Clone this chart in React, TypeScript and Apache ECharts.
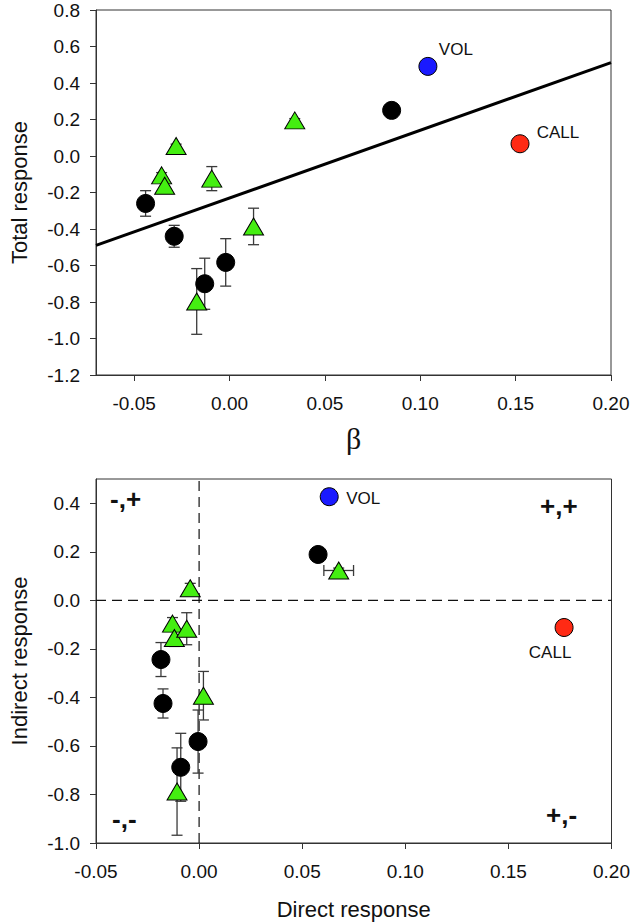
import React, { useEffect, useRef } from "react";
import * as echarts from "echarts";

// ---------- Top panel: Total response vs beta ----------
// [beta, total response, y error]
const topBlack: number[][] = [
  [-0.044, -0.26, 0.07],
  [-0.029, -0.44, 0.06],
  [-0.013, -0.7, 0.14],
  [-0.002, -0.583, 0.13],
  [0.085, 0.25, 0],
];
const topGreen: number[][] = [
  [-0.028, 0.055, 0.01],
  [-0.0356, -0.106, 0.015],
  [-0.034, -0.163, 0.015],
  [-0.0093, -0.124, 0.066],
  [0.0126, -0.386, 0.1],
  [-0.0172, -0.797, 0.18],
  [0.0342, 0.195, 0.01],
];
const topVol: number[][] = [[0.104, 0.491, 0]];
const topCall: number[][] = [[0.1523, 0.067, 0]];
const fitX: number[] = [-0.07, 0.2];
const fitY: number[] = [-0.49, 0.512];

const topXTicks: number[] = [-0.05, 0, 0.05, 0.1, 0.15, 0.2];
const topYTicks: number[] = [-1.2, -1.0, -0.8, -0.6, -0.4, -0.2, 0, 0.2, 0.4, 0.6, 0.8];

// ---------- Bottom panel: Indirect vs Direct response ----------
// [direct, indirect, y error, x error]
const botBlack: number[][] = [
  [-0.0185, -0.244, 0.07, 0],
  [-0.0175, -0.425, 0.06, 0],
  [-0.0005, -0.582, 0.13, 0],
  [-0.0089, -0.688, 0.14, 0],
  [0.0577, 0.189, 0, 0],
];
const botGreen: number[][] = [
  [-0.0043, 0.05, 0.02, 0],
  [-0.0129, -0.096, 0.025, 0],
  [-0.012, -0.155, 0.035, 0],
  [-0.006, -0.117, 0.066, 0],
  [0.0021, -0.393, 0.1, 0],
  [-0.0107, -0.788, 0.18, 0],
  [0.0677, 0.123, 0.01, 0.0072],
];
const botVol: number[][] = [[0.0631, 0.427, 0.03, 0]];
const botCall: number[][] = [[0.177, -0.112, 0.015, 0]];

const botXTicks: number[] = [-0.05, 0, 0.05, 0.1, 0.15, 0.2];
const botYTicks: number[] = [-1.0, -0.8, -0.6, -0.4, -0.2, 0, 0.2, 0.4];
const zeroLineV: number[][] = [[0, -1.0], [0, 0.5]];
const zeroLineH: number[][] = [[-0.05, 0], [0.2, 0]];

const FONT = "'Liberation Sans', Arial, Helvetica, sans-serif";
const AX = "#333333";
const GREEN = "#44ee11";
const BLUE = "#1a1aff";
const RED = "#ff2a14";

function errorBarItem(params: any, api: any) {
  const x = api.value(0);
  const y = api.value(1);
  const ey = api.value(2) || 0;
  const ex = api.value(3) || 0;
  const cap = 5.5;
  const style = { stroke: "#3a3a3a", lineWidth: 1.3, fill: "none" };
  const children: any[] = [];
  if (ey > 0) {
    const a = api.coord([x, y + ey]);
    const b = api.coord([x, y - ey]);
    children.push({ type: "line", shape: { x1: a[0], y1: a[1], x2: b[0], y2: b[1] }, style });
    children.push({ type: "line", shape: { x1: a[0] - cap, y1: a[1], x2: a[0] + cap, y2: a[1] }, style });
    children.push({ type: "line", shape: { x1: b[0] - cap, y1: b[1], x2: b[0] + cap, y2: b[1] }, style });
  }
  if (ex > 0) {
    const a = api.coord([x - ex, y]);
    const b = api.coord([x + ex, y]);
    children.push({ type: "line", shape: { x1: a[0], y1: a[1], x2: b[0], y2: b[1] }, style });
    children.push({ type: "line", shape: { x1: a[0], y1: a[1] - cap, x2: a[0], y2: a[1] + cap }, style });
    children.push({ type: "line", shape: { x1: b[0], y1: b[1] - cap, x2: b[0], y2: b[1] + cap }, style });
  }
  return { type: "group", children };
}

function errSeries(data: number[][], idx: number) {
  return {
    type: "custom",
    xAxisIndex: idx,
    yAxisIndex: idx,
    renderItem: errorBarItem,
    encode: { x: 0, y: 1 },
    data,
    z: 2,
    silent: true,
  };
}

function scatter(data: number[][], idx: number, symbol: string, size: any, color: string, label?: any) {
  return {
    type: "scatter",
    xAxisIndex: idx,
    yAxisIndex: idx,
    symbol,
    symbolSize: size,
    data: data.map((d) => [d[0], d[1]]),
    itemStyle: { color, borderColor: "#000", borderWidth: 1, opacity: 1 },
    label: label || { show: false },
    z: 4,
  };
}

function labelOf(text: string, offset: number[]) {
  return {
    show: true,
    position: "inside",
    offset,
    formatter: text,
    color: "#111",
    fontSize: 17,
    fontFamily: FONT,
  };
}

function xAxisCfg(idx: number, min: number, max: number, ticks: number[], name: string, nameStyle: any, nameGap: number) {
  return {
    type: "value",
    gridIndex: idx,
    min,
    max,
    name,
    nameLocation: "middle",
    nameGap,
    nameTextStyle: nameStyle,
    axisLine: { show: true, onZero: false, lineStyle: { color: AX, width: 1 } },
    axisTick: { show: true, inside: false, length: 6, customValues: ticks, lineStyle: { color: AX } },
    axisLabel: {
      show: true,
      customValues: ticks,
      margin: 19,
      fontSize: 19,
      fontFamily: FONT,
      color: "#111",
      formatter: (v: number) => v.toFixed(2),
    },
    splitLine: { show: false },
  };
}

function yAxisCfg(idx: number, min: number, max: number, ticks: number[], name: string, nameGap: number) {
  return {
    type: "value",
    gridIndex: idx,
    min,
    max,
    name,
    nameLocation: "middle",
    nameGap,
    nameRotate: 90,
    nameTextStyle: { fontSize: 22, fontFamily: FONT, color: "#111" },
    axisLine: { show: true, onZero: false, lineStyle: { color: AX, width: 1 } },
    axisTick: { show: true, inside: false, length: 6, customValues: ticks, lineStyle: { color: AX } },
    axisLabel: {
      show: true,
      customValues: ticks,
      margin: 16,
      fontSize: 19,
      fontFamily: FONT,
      color: "#111",
      formatter: (v: number) => v.toFixed(1),
    },
    splitLine: { show: false },
  };
}

export default function App() {
  const ref = useRef<HTMLDivElement>(null);

  useEffect(() => {
    if (!ref.current) return;
    const chart = echarts.init(ref.current, undefined, { renderer: "svg" });
    const quadStyle = { fontSize: 26, fontWeight: "bold", fontFamily: FONT, fill: "#111" };
    chart.setOption({
      animation: false,
      backgroundColor: "#ffffff",
      grid: [
        { left: 89, top: 10, width: 522, height: 365, show: true, borderColor: AX, borderWidth: 1, backgroundColor: "transparent" },
        { left: 90, top: 479, width: 522, height: 364, show: true, borderColor: AX, borderWidth: 1, backgroundColor: "transparent" },
      ],
      xAxis: [
        xAxisCfg(0, -0.07, 0.2, topXTicks, "β", { fontSize: 30, fontFamily: "'Liberation Serif', 'Times New Roman', serif", color: "#111" }, 48),
        xAxisCfg(1, -0.05, 0.2, botXTicks, "Direct response", { fontSize: 22, fontFamily: FONT, color: "#111" }, 55),
      ],
      yAxis: [
        yAxisCfg(0, -1.2, 0.8, topYTicks, "Total response", 66),
        yAxisCfg(1, -1.0, 0.5, botYTicks, "Indirect response", 66),
      ],
      graphic: [
        { type: "text", left: 110, top: 486, style: { text: "-,+", ...quadStyle } },
        { type: "text", left: 540, top: 493, style: { text: "+,+", ...quadStyle } },
        { type: "text", left: 112, top: 806, style: { text: "-,-", ...quadStyle } },
        { type: "text", left: 546, top: 802, style: { text: "+,-", ...quadStyle } },
      ],
      series: [
        {
          type: "line",
          xAxisIndex: 0,
          yAxisIndex: 0,
          data: fitX.map((x, i) => [x, fitY[i]]),
          symbol: "none",
          lineStyle: { color: "#000", width: 3 },
          z: 1,
          silent: true,
        },
        {
          type: "line",
          xAxisIndex: 1,
          yAxisIndex: 1,
          data: zeroLineV,
          symbol: "none",
          lineStyle: { color: "#111", width: 1.2, type: [10, 6] },
          z: 1,
          silent: true,
        },
        {
          type: "line",
          xAxisIndex: 1,
          yAxisIndex: 1,
          data: zeroLineH,
          symbol: "none",
          lineStyle: { color: "#111", width: 1.2, type: [10, 6] },
          z: 1,
          silent: true,
        },
        errSeries(topBlack, 0),
        errSeries(topGreen, 0),
        errSeries(botBlack, 1),
        errSeries(botGreen, 1),
        errSeries(botVol, 1),
        errSeries(botCall, 1),
        scatter(topBlack, 0, "circle", 18, "#000"),
        scatter(topGreen, 0, "triangle", [20, 17], GREEN),
        scatter(topVol, 0, "circle", 18, BLUE, labelOf("VOL", [28, -17])),
        scatter(topCall, 0, "circle", 18, RED, labelOf("CALL", [38, -11])),
        scatter(botBlack, 1, "circle", 18, "#000"),
        scatter(botGreen, 1, "triangle", [20, 17], GREEN),
        scatter(botVol, 1, "circle", 18, BLUE, labelOf("VOL", [34, 2])),
        scatter(botCall, 1, "circle", 18, RED, labelOf("CALL", [-14, 25])),
      ],
    });
    return () => chart.dispose();
  }, []);

  return (
    <div
      ref={ref}
      style={{ position: "absolute", left: 0, top: 0, width: 633, height: 923, background: "#fff" }}
    />
  );
}
